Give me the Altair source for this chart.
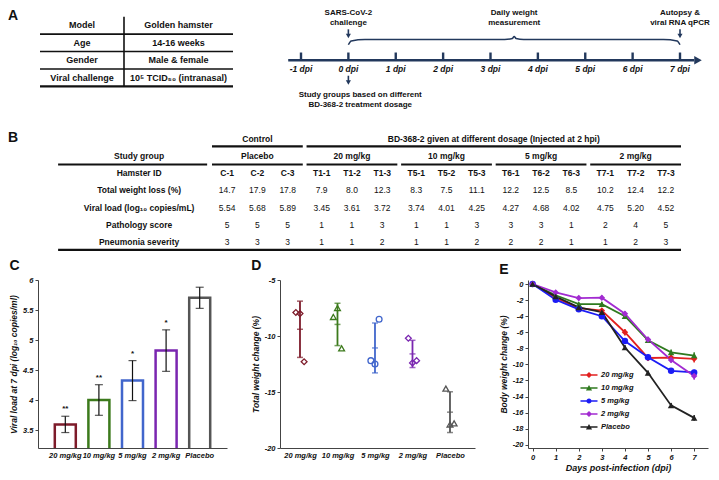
import altair as alt
import pandas as pd

FONT = "Liberation Sans"
INK = "#111111"
NAVY = "#22385c"

# ======================= DATA =======================
# ---- Panel A: study design table ----
a_keys = ["Model", "Age", "Gender", "Viral challenge"]
a_vals = ["Golden hamster", "14-16 weeks", "Male & female", "10⁵ TCID₅₀ (intranasal)"]

# ---- Panel A: timeline ----
tl_days = [-1, 0, 1, 2, 3, 4, 5, 6, 7]
tl_notes = ["SARS-CoV-2", "challenge", "Daily weight", "measurement",
            "Autopsy &", "viral RNA qPCR",
            "Study groups based on different", "BD-368-2 treatment dosage"]

# ---- Panel B: per-animal table ----
b_groups = ["Placebo", "20 mg/kg", "10 mg/kg", "5 mg/kg", "2 mg/kg"]
b_ids = ["C-1", "C-2", "C-3", "T1-1", "T1-2", "T1-3", "T5-1", "T5-2", "T5-3",
         "T6-1", "T6-2", "T6-3", "T7-1", "T7-2", "T7-3"]
b_loss = [14.7, 17.9, 17.8, 7.9, 8.0, 12.3, 8.3, 7.5, 11.1, 12.2, 12.5, 8.5, 10.2, 12.4, 12.2]
b_viral = [5.54, 5.68, 5.89, 3.45, 3.61, 3.72, 3.74, 4.01, 4.25, 4.27, 4.68, 4.02, 4.75, 5.20, 4.52]
b_path = [5, 5, 5, 1, 1, 3, 1, 1, 3, 3, 3, 1, 2, 4, 5]
b_pneu = [3, 3, 3, 1, 1, 2, 1, 1, 2, 2, 2, 1, 1, 2, 3]
b_row_labels = ["Hamster ID", "Total weight loss (%)", "Viral load (log₁₀ copies/mL)",
                "Pathology score", "Pneumonia severity"]

# ---- Panels C / D ----
cd_groups = ["20 mg/kg", "10 mg/kg", "5 mg/kg", "2 mg/kg", "Placebo"]
c_stars = ["**", "**", "*", "*", ""]

# ---- Panel E: mean body weight change (%) per day ----
e_series = ["20 mg/kg", "10 mg/kg", "5 mg/kg", "2 mg/kg", "Placebo"]
e_days = [0, 1, 2, 3, 4, 5, 6, 7]
e_20 = [0, -1.7, -3.0, -3.3, -6.0, -9.2, -9.15, -9.3]
e_10 = [0, -1.4, -2.5, -2.5, -4.0, -7.0, -8.5, -8.9]
e_5 = [0, -1.95, -3.15, -4.0, -7.1, -9.1, -10.8, -11.0]
e_2 = [0, -1.05, -1.75, -1.7, -3.7, -6.9, -9.45, -11.45]
e_pl = [0, -1.55, -2.9, -3.5, -7.9, -11.05, -15.1, -16.65]
e_err_20 = [0, 0.2, 0.25, 0.3, 0.4, 0.35, 0.3, 0.45]
e_err_10 = [0, 0.2, 0.2, 0.3, 0.3, 0.3, 0.35, 0.4]
e_err_5 = [0, 0.2, 0.25, 0.25, 0.3, 0.3, 0.3, 0.35]
e_err_2 = [0, 0.25, 0.3, 0.3, 0.35, 0.35, 0.35, 0.45]
e_err_pl = [0, 0.2, 0.25, 0.3, 0.3, 0.3, 0.3, 0.35]

# ======================= STYLE / LAYOUT =======================
cd_colors = ["#7d1b2a", "#3c7a1c", "#4166cc", "#7a26b0", "#555555"]
d_shapes = ["diamond", "triangle-up", "circle", "diamond", "triangle-up"]
e_colors = ["#e2201f", "#2f7a1f", "#1c1cf5", "#a22bd1", "#222222"]
e_shapes = ["diamond", "triangle-up", "circle", "diamond", "triangle-up"]
BAR = "M-1,-0.08H1V0.08H-1Z "
e_legend_paths = [
    BAR + "M0,-0.36L0.36,0L0,0.36L-0.36,0Z",
    BAR + "M0,-0.36L0.36,0.28L-0.36,0.28Z",
    BAR + "M0.3,0A0.3,0.3 0 1 1 -0.3,0A0.3,0.3 0 1 1 0.3,0Z",
    BAR + "M0,-0.36L0.36,0L0,0.36L-0.36,0Z",
    BAR + "M0,-0.36L0.36,0.28L-0.36,0.28Z",
]

# top block's origin sits at the left edge of panel C's plot area
TOP_W = 667
TOP_H = 244
LEFT = -30


def S(domain, rng):
    return alt.Scale(domain=domain, range=rng, nice=False, zero=False)


def segs(df, xs, ys, width, color=INK):
    return alt.Chart(df).mark_rule(strokeWidth=width, color=color, strokeCap="butt").encode(
        x=alt.X("x0:Q", scale=xs, axis=None), x2="x1:Q",
        y=alt.Y("y0:Q", scale=ys, axis=None), y2="y1:Q")


def texts(df, xs, ys, size, weight="normal", style="normal", color=INK):
    return alt.Chart(df).mark_text(font=FONT, fontSize=size, fontWeight=weight, fontStyle=style,
                                   color=color, align="center", baseline="middle").encode(
        x=alt.X("x:Q", scale=xs, axis=None), y=alt.Y("y:Q", scale=ys, axis=None), text="text:N")


def heads(df, xs, ys, shape, size):
    return alt.Chart(df).mark_point(shape=shape, filled=True, size=size, color=NAVY, opacity=1).encode(
        x=alt.X("x:Q", scale=xs, axis=None), y=alt.Y("y:Q", scale=ys, axis=None))


layers = []

# ---------- panel letters A / B ----------
for letter, yy in [("A", 7), ("B", 129)]:
    layers.append(alt.Chart(pd.DataFrame({"text": [letter]})).mark_text(
        font=FONT, fontSize=14, fontWeight="bold", align="left", baseline="middle", color=INK).encode(
        x=alt.value(LEFT), y=alt.value(yy), text="text:N"))

# ---------- table A ----------
A_XS = S([0, 1, 2], [2, 86, 195])
A_YS = S([0, 4], [7.7, 77.4])
a_cells = pd.DataFrame([{"x": c + 0.5, "y": r + 0.5, "text": t}
                        for r in range(4) for c, t in enumerate([a_keys[r], a_vals[r]])])
layers.append(texts(a_cells, A_XS, A_YS, 9, weight="bold"))
layers.append(segs(pd.DataFrame({"x0": [0, 0, 0], "x1": [2, 2, 2], "y0": [1, 2, 3], "y1": [1, 2, 3]}),
                   A_XS, A_YS, 1.6))
layers.append(segs(pd.DataFrame({"x0": [0], "x1": [2], "y0": [4], "y1": [4]}), A_XS, A_YS, 2.2))
layers.append(segs(pd.DataFrame({"x0": [1], "x1": [1], "y0": [0], "y1": [4]}), A_XS, A_YS, 1.6))

# ---------- timeline ----------
TL_XS = S([-1, 7], [263, 642])
TL_YS = S([0, 100], [0, 96.7])
layers.append(segs(pd.DataFrame({"x0": [-1.27], "x1": [7.3], "y0": [53], "y1": [53]}), TL_XS, TL_YS, 2.6, NAVY))
layers.append(heads(pd.DataFrame({"x": [7.38], "y": [53]}), TL_XS, TL_YS, "triangle-right", 75))
layers.append(segs(pd.DataFrame({"x0": tl_days, "x1": tl_days, "y0": [45] * len(tl_days),
                                 "y1": [53] * len(tl_days)}), TL_XS, TL_YS, 2.4, NAVY))
layers.append(texts(pd.DataFrame({"x": tl_days, "y": [62.5] * len(tl_days),
                                  "text": [f"{d} dpi" for d in tl_days]}),
                    TL_XS, TL_YS, 8.5, weight="bold", style="italic"))
layers.append(texts(pd.DataFrame({"x": [0, 0, 3.5, 3.5, 7, 7, 0.25, 0.25],
                                  "y": [4, 14, 4, 14, 4, 14, 89, 99], "text": tl_notes}),
                    TL_XS, TL_YS, 8, weight="bold"))
layers.append(segs(pd.DataFrame({"x0": [0, 7, 0], "x1": [0, 7, 0], "y0": [21, 21, 69], "y1": [27, 27, 75]}),
                   TL_XS, TL_YS, 1.6, NAVY))
layers.append(heads(pd.DataFrame({"x": [0, 7, 0], "y": [28, 28, 76]}), TL_XS, TL_YS, "triangle-down", 26))
brace = pd.DataFrame({"x": [0, 0.06, 0.35, 3.3, 3.46, 3.5, 3.54, 3.7, 6.65, 6.94, 7.0],
                      "y": [37, 33, 31.5, 31.5, 30.5, 28.5, 30.5, 31.5, 31.5, 33, 37]})
layers.append(alt.Chart(brace).mark_line(color=NAVY, strokeWidth=1.5, interpolate="monotone").encode(
    x=alt.X("x:Q", scale=TL_XS, axis=None), y=alt.Y("y:Q", scale=TL_YS, axis=None)))

# ---------- table B ----------
B_XS = S([-1, 0, 4.96], [12, 174, 643])
B_YS = S([0, 6], [129.6, 233.1])
GW = 0.96
LBL = -0.45
col_x = [j // 3 + GW * (j % 3 + 0.5) / 3 for j in range(len(b_ids))]
b_bold = [{"x": 0.48, "y": 0, "text": "Control"},
          {"x": (1 + 4 + GW) / 2, "y": 0, "text": "BD-368-2 given at different dosage (Injected at 2 hpi)"},
          {"x": LBL, "y": 1, "text": "Study group"}]
b_bold += [{"x": g + GW / 2, "y": 1, "text": t} for g, t in enumerate(b_groups)]
b_bold += [{"x": LBL, "y": 2 + i, "text": t} for i, t in enumerate(b_row_labels)]
b_bold += [{"x": col_x[j], "y": 2, "text": t} for j, t in enumerate(b_ids)]
layers.append(texts(pd.DataFrame(b_bold), B_XS, B_YS, 8.5, weight="bold"))
b_reg = []
for j in range(len(b_ids)):
    b_reg += [{"x": col_x[j], "y": 3, "text": f"{b_loss[j]:.1f}"},
              {"x": col_x[j], "y": 4, "text": f"{b_viral[j]:.2f}"},
              {"x": col_x[j], "y": 5, "text": str(b_path[j])},
              {"x": col_x[j], "y": 6, "text": str(b_pneu[j])}]
layers.append(texts(pd.DataFrame(b_reg), B_XS, B_YS, 8.5))
b_lines = [{"x0": 0, "x1": GW, "y0": 0.45, "y1": 0.45}, {"x0": 1, "x1": 4 + GW, "y0": 0.45, "y1": 0.45},
           {"x0": -0.95, "x1": -0.03, "y0": 1.5, "y1": 1.5}]
b_lines += [{"x0": g, "x1": g + GW, "y0": 1.5, "y1": 1.5} for g in range(len(b_groups))]
b_lines += [{"x0": -0.95, "x1": 4 + GW, "y0": 6.45, "y1": 6.45}]
layers.append(segs(pd.DataFrame(b_lines), B_XS, B_YS, 2.2))

top = alt.layer(*layers).resolve_scale(x="independent", y="independent").properties(width=TOP_W, height=TOP_H)

# ======================= PANEL C =======================
cells = pd.DataFrame({"group": [b_groups[j // 3] for j in range(len(b_ids))],
                      "rep": [j % 3 for j in range(len(b_ids))],
                      "viral": b_viral, "loss": b_loss})
c_stats = cells.groupby("group")["viral"].agg(["mean", "std"]).reindex(cd_groups).reset_index()
c_stats["lo"] = c_stats["mean"] - c_stats["std"]
c_stats["hi"] = c_stats["mean"] + c_stats["std"]
c_stats["star"] = c_stars

CD_COLOR = alt.Scale(domain=cd_groups, range=cd_colors)
PH = 168


def panel_title(t):
    return alt.TitleParams(t, anchor="start", frame="bounds", fontSize=14, fontWeight="bold",
                           offset=3, font=FONT, color=INK)


cx = alt.X("group:N", sort=cd_groups,
           scale=alt.Scale(domain=cd_groups, paddingInner=0.375, paddingOuter=0.5),
           axis=alt.Axis(title=None, labelAngle=0, ticks=False, labelPadding=3))
cy_scale = alt.Scale(domain=[3.2, 6], nice=False, zero=False)
cy_axis = alt.Axis(values=[3.5, 4, 4.5, 5, 5.5, 6], labelExpr="datum.value",
                   title="Viral load at 7 dpi (log₁₀ copies/ml)")


def cy(f):
    return alt.Y(f, scale=cy_scale, axis=cy_axis)


cb = alt.Chart(c_stats)
c_bars = cb.mark_bar(fill="white", strokeWidth=2.5, clip=True).encode(
    x=cx, y=cy("mean:Q"), stroke=alt.Stroke("group:N", scale=CD_COLOR, legend=None))
c_err = cb.mark_rule(color=INK, strokeWidth=1.2).encode(x=cx, y=cy("lo:Q"), y2="hi:Q")
c_cap1 = cb.mark_tick(orient="horizontal", size=8, thickness=1.2, color=INK).encode(x=cx, y=cy("lo:Q"))
c_cap2 = cb.mark_tick(orient="horizontal", size=8, thickness=1.2, color=INK).encode(x=cx, y=cy("hi:Q"))
c_star = cb.mark_text(dy=-3, baseline="bottom", fontSize=8, fontWeight="bold", color=INK, font=FONT).encode(
    x=cx, y=cy("hi:Q"), text="star:N")
chart_c = alt.layer(c_bars, c_err, c_cap1, c_cap2, c_star).properties(
    width=189, height=PH, title=panel_title("C"))

# ======================= PANEL D =======================
d_pts = cells.copy()
d_pts["gi"] = [cd_groups.index(g) + 1 for g in d_pts["group"]]
d_pts["v"] = -d_pts["loss"]
d_stats = d_pts.groupby(["group", "gi"])["v"].agg(["mean", "std"]).reset_index()
d_stats["lo"] = d_stats["mean"] - d_stats["std"]
d_stats["hi"] = d_stats["mean"] + d_stats["std"]

label_js = "[" + ",".join(f"'{g}'" for g in cd_groups) + "][datum.value - 1]"
dx_scale = alt.Scale(domain=[0.467, 5.667], nice=False, zero=False)
dx_axis = alt.Axis(values=[1, 2, 3, 4, 5], labelExpr=label_js, title=None, ticks=False, labelPadding=3)
dy_scale = alt.Scale(domain=[-20, -5], nice=False, zero=False)
dy_axis = alt.Axis(values=[-20, -15, -10, -5], labelExpr="datum.value", title="Total weight change (%)")


def dX(f):
    return alt.X(f, scale=dx_scale, axis=dx_axis)


def dY(f):
    return alt.Y(f, scale=dy_scale, axis=dy_axis)


D_SHAPE = alt.Scale(domain=cd_groups, range=d_shapes)
d_points = alt.Chart(d_pts).transform_calculate(xj="datum.gi + (datum.rep - 1) * 0.11").mark_point(
    filled=False, size=34, strokeWidth=1.3, opacity=1).encode(
    x=dX("xj:Q"), y=dY("v:Q"),
    color=alt.Color("group:N", scale=CD_COLOR, legend=None),
    shape=alt.Shape("group:N", scale=D_SHAPE, legend=None))
db = alt.Chart(d_stats)
d_col = alt.Color("group:N", scale=CD_COLOR, legend=None)
d_err = db.mark_rule(strokeWidth=1.8).encode(x=dX("gi:Q"), y=dY("lo:Q"), y2="hi:Q", color=d_col)
d_ticks = [db.mark_tick(orient="horizontal", size=6, thickness=1.5).encode(x=dX("gi:Q"), y=dY(f), color=d_col)
           for f in ["lo:Q", "mean:Q", "hi:Q"]]
chart_d = alt.layer(d_err, *d_ticks, d_points).properties(width=195, height=PH, title=panel_title("D"))

# ======================= PANEL E =======================
e_vals = [e_20, e_10, e_5, e_2, e_pl]
e_errs = [e_err_20, e_err_10, e_err_5, e_err_2, e_err_pl]
e_rows = []
for s, vals, errs in zip(e_series, e_vals, e_errs):
    for d, v, er in zip(e_days, vals, errs):
        e_rows.append({"series": s, "day": d, "val": v, "lo": v - er, "hi": v + er})
e_df = pd.DataFrame(e_rows)

ex_scale = alt.Scale(domain=[-0.2, 7.6], nice=False, zero=False)
ex_axis = alt.Axis(values=e_days, labelExpr="datum.value", title="Days post-infection (dpi)",
                   titleFontSize=9, titlePadding=3)
ey_scale = alt.Scale(domain=[-20.4, 0.5], nice=False, zero=False)
ey_axis = alt.Axis(values=list(range(-20, 1, 2)), labelExpr="datum.value", title="Body weight change (%)")
E_COLOR = alt.Scale(domain=e_series, range=e_colors)


def eX(f):
    return alt.X(f, scale=ex_scale, axis=ex_axis)


def eY(f):
    return alt.Y(f, scale=ey_scale, axis=ey_axis)


eb = alt.Chart(e_df)
e_lines = eb.mark_line(strokeWidth=1.8).encode(
    x=eX("day:Q"), y=eY("val:Q"), color=alt.Color("series:N", scale=E_COLOR, legend=None, sort=e_series),
    order="day:Q")
e_err = eb.mark_rule(strokeWidth=1.4).encode(
    x=eX("day:Q"), y=eY("lo:Q"), y2="hi:Q", color=alt.Color("series:N", scale=E_COLOR, legend=None))
e_pts = eb.mark_point(filled=True, size=42, opacity=1).encode(
    x=eX("day:Q"), y=eY("val:Q"), color=alt.Color("series:N", scale=E_COLOR, legend=None),
    shape=alt.Shape("series:N", scale=alt.Scale(domain=e_series, range=e_shapes), legend=None))
leg = alt.Legend(orient="none", legendX=52, legendY=86, title=None, labelFont=FONT, labelFontSize=7.5,
                 labelFontStyle="italic", labelFontWeight="bold", labelColor=INK, symbolSize=290,
                 labelOffset=3, rowPadding=0, padding=0, symbolStrokeWidth=0)
e_leg = eb.transform_filter("false").mark_point(filled=True, size=290, opacity=1).encode(
    x=eX("day:Q"), y=eY("val:Q"),
    color=alt.Color("series:N", scale=E_COLOR, legend=leg),
    shape=alt.Shape("series:N", scale=alt.Scale(domain=e_series, range=e_legend_paths), legend=leg))
chart_e = alt.layer(e_lines, e_err, e_pts, e_leg).resolve_scale(
    color="independent", shape="independent").properties(width=180, height=PH, title=panel_title("E"))

bottom = alt.hconcat(chart_c, chart_d, chart_e, spacing=24)

chart = alt.vconcat(top, bottom, spacing=6).properties(padding=0).configure(font=FONT).configure_view(
    stroke=None).configure_axis(
    labelFont=FONT, labelFontSize=7.5, labelFontStyle="italic", labelFontWeight="bold", labelColor=INK,
    titleFont=FONT, titleFontSize=8.5, titleFontStyle="italic", titleFontWeight="bold", titleColor=INK,
    domainColor="#444444", domainWidth=1, tickColor="#444444", tickSize=3, grid=False,
    titlePadding=4, labelPadding=2)

chart.save("out.html", embed_options={"renderer": "svg", "actions": False})
